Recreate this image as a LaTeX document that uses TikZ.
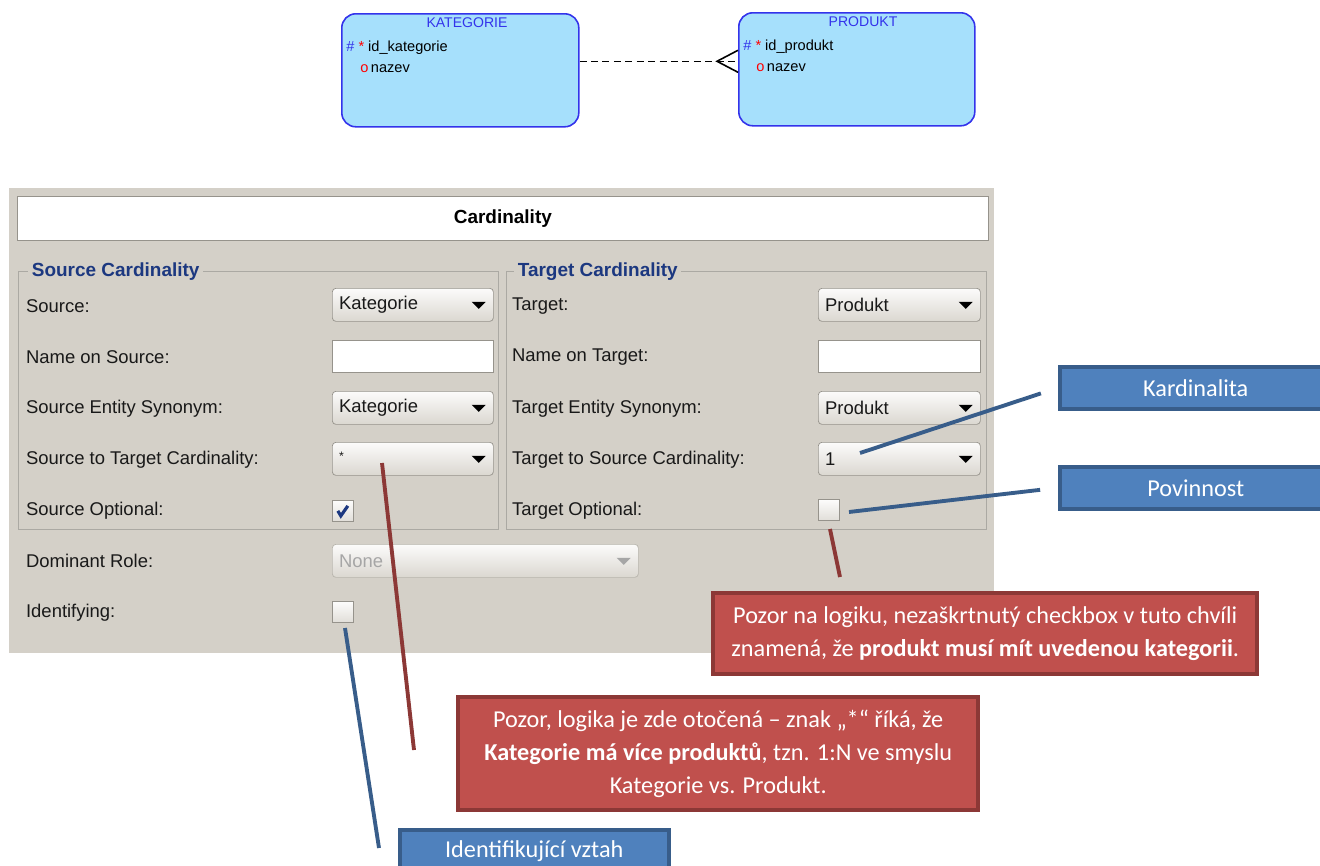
\documentclass[tikz,border=0pt]{standalone}
\usepackage{fontspec}
\setmainfont{Liberation Sans}
\newfontfamily\calfont{Carlito}
\usetikzlibrary{positioning}
\definecolor{dlgbg}{RGB}{212,208,200}
\definecolor{dlgline}{RGB}{150,147,140}
\definecolor{erfill}{RGB}{166,224,252}
\definecolor{erline}{RGB}{51,51,235}
\definecolor{grpblue}{RGB}{28,56,128}
\definecolor{calblue}{RGB}{79,129,189}
\definecolor{calblueb}{RGB}{56,93,138}
\definecolor{calred}{RGB}{192,80,77}
\definecolor{calredb}{RGB}{140,56,54}
\def\px{*.02cm}
% combo box: name, x, y, width, text
\newcommand\combo[5]{%
  \node[combo, minimum width=#4\px] (#1) at (#2,#3) {};
  \node[lbl, anchor=west] (#1t) at ([shift={(5,0)}]#1.west) {#5};
  \fill (#1.east) ++(-22,-3) -- ++(14,0) -- ++(-7,7) -- cycle;}
\begin{document}
\begin{tikzpicture}[x=.02cm, y=-.02cm,
  ent/.style={draw=erline, line width=.9pt, fill=erfill, rounded corners=8pt, anchor=north west, minimum width=237\px, minimum height=113\px},
  enttitle/.style={font=\fontsize{8}{10}\selectfont, text=erline, inner sep=0},
  attr/.style={font=\fontsize{8.3}{10}\selectfont, anchor=west, inner sep=0},
  combo/.style={draw=dlgline, rounded corners=2pt, top color=white!92!dlgbg, bottom color=dlgbg!85!white, anchor=north west, minimum height=33\px, inner sep=0},
  field/.style={draw=dlgline, fill=white, anchor=north west, minimum height=32\px, inner sep=0},
  chk/.style={draw=dlgline, top color=white!95!dlgbg, bottom color=dlgbg!70!white, anchor=north west, minimum size=21\px, inner sep=0},
  lbl/.style={font=\fontsize{10.5}{12}\selectfont, text=black!90, inner sep=1pt},
  grp/.style={draw=dlgline!80!white},
  grptitle/.style={font=\fontsize{10.8}{13}\selectfont\bfseries, text=grpblue, fill=dlgbg, anchor=west, inner xsep=2pt, inner ysep=0},
  bluebox/.style={draw=calblueb, line width=2pt, fill=calblue, text=white, font=\calfont\fontsize{13.8}{16}\selectfont, anchor=north west, minimum height=42\px},
  redbox/.style={draw=calredb, line width=2.5pt, fill=calred, text=white, font=\calfont\fontsize{13.8}{18.6}\selectfont, align=center, anchor=north west},
  bluecon/.style={calblueb, line width=2.2pt},
  redcon/.style={calredb, line width=2.2pt}]
\useasboundingbox (0,0) rectangle (1320,866);
% er diagram
\node[ent] (kat) at (341,13) {};
\node[ent, minimum width=236\px] (prod) at (738,12) {};
\node[enttitle] (katT) at (467,23) {KATEGORIE};
\node[enttitle] (prodT) at (863,22) {PRODUKT};
\node[attr] (katId) at (346,48) {\textcolor{erline}{\#} \textcolor{red}{*} id\_kategorie};
\node[attr] (katNz) at (360,69) {\textcolor{red}{o}\,nazev};
\node[attr] (prodId) at (743,47) {\textcolor{erline}{\#} \textcolor{red}{*} id\_produkt};
\node[attr] (prodNz) at (756,68) {\textcolor{red}{o}\,nazev};
\draw[dash pattern=on 4pt off 2.5pt, line width=.9pt] (kat.east) ++(0,-9) coordinate (relA) -- (relA -| prod.west) coordinate (relB);
\draw[line width=.9pt] (relB) ++(0,-11) -- ++(-21,11) -- ++(21,11);
% dialog
\fill[dlgbg] (9,188) rectangle (994,653);
\node[field, minimum width=971\px, minimum height=44\px, font=\fontsize{10.8}{13}\selectfont\bfseries] (head) at (17,196) {Cardinality};
\draw[grp] (18,271) rectangle (498,529) (506,271) rectangle (986,529);
\node[grptitle] (srcG) at (28,272) {Source Cardinality};
\node[grptitle] (tgtG) at (514,272) {Target Cardinality};
\foreach \y/\s/\t [count=\i] in {306/Source:/Target:, 357/Name on Source:/Name on Target:, 409/Source Entity Synonym:/Target Entity Synonym:, 460/Source to Target Cardinality:/Target to Source Cardinality:, 511/Source Optional:/Target Optional:}
  \node[lbl, anchor=west] (sl\i) at (24,\y) {\s} node[lbl, anchor=west] (tl\i) at (510,\y) {\t};
\node[lbl, anchor=west] (domL) at (24,561) {Dominant Role:};
\node[lbl, anchor=west] (idL) at (24,613) {Identifying:};
\combo{srcE}{332}{288}{161}{Kategorie}
\node[field, minimum width=161\px] (srcN) at (332,340) {};
\combo{srcS}{332}{391}{161}{Kategorie}
\combo{srcC}{332}{442}{161}{\raisebox{3pt}{\scriptsize *}}
\node[chk] (srcO) at (332,500) {};
\draw[grpblue, line width=1.8pt] (srcO.center) ++(-5,0) -- ++(3,5) -- ++(7,-10);
\combo{tgtE}{818}{288}{162}{Produkt}
\node[field, minimum width=162\px] (tgtN) at (818,340) {};
\combo{tgtS}{818}{391}{162}{Produkt}
\combo{tgtC}{818}{442}{162}{1}
\node[chk] (tgtO) at (818,499) {};
\node[combo, draw=dlgline!45!dlgbg, minimum width=306\px] (domC) at (332,544) {};
\node[lbl, anchor=west, text=black!35] (domT) at ([shift={(5,0)}]domC.west) {None};
\fill[black!35] (domC.east) ++(-22,-3) -- ++(14,0) -- ++(-7,7) -- cycle;
\node[chk] (idC) at (332,601) {};
% callouts
\node[bluebox, minimum width=272\px] (kard) at (1058,365) {Kardinalita};
\node[bluebox, minimum width=272\px] (povin) at (1058,465) {Povinnost};
\node[bluebox, minimum width=269\px] (identV) at (398,828) {Identifikující vztah};
\node[redbox, minimum width=544\px, minimum height=81\px] (logA) at (711,591) {Pozor na logiku, nezaškrtnutý checkbox v tuto chvíli\\znamená, že \textbf{produkt musí mít uvedenou kategorii}.};
\node[redbox, minimum width=520\px, minimum height=113\px] (logB) at (456,695) {Pozor, logika je zde otočená – znak „*“ říká, že\\\textbf{Kategorie má více produktů}, tzn. 1:N ve smyslu\\Kategorie vs. Produkt.};
\coordinate (kardP) at (860,453);
\coordinate (povP) at (849,512);
\coordinate (logAP) at (830,529);
\coordinate (logAE) at (840,577);
\coordinate (logBP) at (382,463);
\coordinate (logBE) at (414,750);
\coordinate (idP) at (345,628);
\coordinate (idE) at (379,848);
\draw[bluecon, shorten >=.36cm] (kardP) -- (kard.west);
\draw[bluecon, shorten >=.36cm] (povP) -- (povin.west);
\draw[redcon] (logAP) -- (logAE);
\draw[redcon] (logBP) -- (logBE);
\draw[bluecon] (idP) -- (idE);
\end{tikzpicture}
\end{document}
